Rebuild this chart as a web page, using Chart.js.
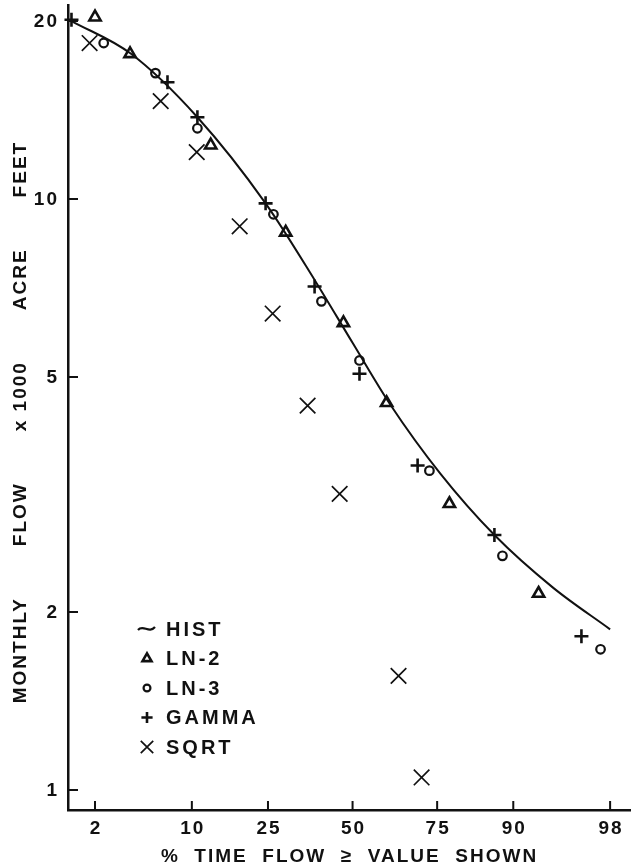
<!DOCTYPE html>
<html>
<head>
<meta charset="utf-8">
<script src="https://cdn.jsdelivr.net/npm/chart.js@4.4.1/dist/chart.umd.min.js"></script>
<style>
  html, body { margin: 0; padding: 0; background: #fff; }
  #wrap { width: 631px; height: 868px; }
</style>
</head>
<body>
<div id="wrap"><canvas id="flowChart" width="631" height="868"></canvas></div>
<script>
// x = % of time flow >= value shown, y = monthly flow (x 1000 acre feet)
var xTicks = [2, 10, 25, 50, 75, 90, 98];
var yTicks = [1, 2, 5, 10, 20];

var histPct  = [1.25, 3.84, 10.8, 24.4, 38.2, 50.0, 61.8, 75.8, 87.1, 94.5, 98.0];
var histFlow = [20.0, 17.62, 13.75, 9.83, 7.28, 5.71, 4.49, 3.43, 2.70, 2.20, 1.87];

var ln2Pct  = [2.0, 3.8, 12.9, 29.7, 47.1, 60.7, 78.0, 93.1];
var ln2Flow = [20.3, 17.6, 12.33, 8.78, 6.17, 4.52, 3.05, 2.15];

var ln3Pct  = [2.36, 5.8, 10.8, 26.4, 40.2, 52.2, 73.0, 88.4, 97.6];
var ln3Flow = [18.36, 16.33, 13.17, 9.42, 6.71, 5.33, 3.47, 2.49, 1.73];

var gammaPct  = [1.25, 7.0, 10.8, 24.4, 38.1, 52.2, 69.8, 87.1, 96.6];
var gammaFlow = [20.1, 15.76, 13.75, 9.83, 7.11, 5.06, 3.54, 2.70, 1.82];

var sqrtPct  = [1.8, 6.3, 10.7, 18.4, 26.2, 36.0, 45.9, 64.3, 70.9];
var sqrtFlow = [18.36, 14.64, 12.0, 8.99, 6.40, 4.47, 3.17, 1.56, 1.05];

function points(xs, ys) {
    return xs.map(function (x, i) { return { x: x, y: ys[i] }; });
}

// inverse of the normal distribution (Acklam)
function probit(p) {
    var a = [-3.969683028665376e+01, 2.209460984245205e+02, -2.759285104469687e+02, 1.383577518672690e+02, -3.066479806614716e+01, 2.506628277459239e+00];
    var b = [-5.447609879822406e+01, 1.615858368580409e+02, -1.556989798598866e+02, 6.680131188771972e+01, -1.328068155288572e+01];
    var c = [-7.784894002430293e-03, -3.223964580411365e-01, -2.400758277161838e+00, -2.549732539343734e+00, 4.374664141464968e+00, 2.938163982698783e+00];
    var d = [7.784695709041462e-03, 3.224671290700398e-01, 2.445134137142996e+00, 3.754408661907416e+00];
    var q, r;
    if (p < 0.02425) {
        q = Math.sqrt(-2 * Math.log(p));
        return (((((c[0]*q+c[1])*q+c[2])*q+c[3])*q+c[4])*q+c[5]) / ((((d[0]*q+d[1])*q+d[2])*q+d[3])*q+1);
    }
    if (p > 1 - 0.02425) {
        q = Math.sqrt(-2 * Math.log(1 - p));
        return -(((((c[0]*q+c[1])*q+c[2])*q+c[3])*q+c[4])*q+c[5]) / ((((d[0]*q+d[1])*q+d[2])*q+d[3])*q+1);
    }
    q = p - 0.5; r = q * q;
    return (((((a[0]*r+a[1])*r+a[2])*r+a[3])*r+a[4])*r+a[5])*q / (((((b[0]*r+b[1])*r+b[2])*r+b[3])*r+b[4])*r+1);
}

// normal probability paper axis
class ProbabilityScale extends Chart.LinearScale {
    determineDataLimits() {
        this.min = this.options.min;
        this.max = this.options.max;
    }
    buildTicks() {
        return xTicks.map(function (v) { return { value: v }; });
    }
    configure() {
        super.configure();
        this._zStart = probit(this.min / 100);
        this._zEnd = probit(this.max / 100);
    }
    getPixelForValue(value) {
        return this.getPixelForDecimal((probit(value / 100) - this._zStart) / (this._zEnd - this._zStart));
    }
    getValueForPixel(pixel) {
        var z = this._zStart + this.getDecimalForPixel(pixel) * (this._zEnd - this._zStart);
        var lo = 0.0001, hi = 0.9999;
        for (var i = 0; i < 40; i++) {
            var mid = (lo + hi) / 2;
            if (probit(mid) < z) lo = mid; else hi = mid;
        }
        return lo * 100;
    }
}
ProbabilityScale.id = 'probability';
ProbabilityScale.defaults = {};
Chart.register(ProbabilityScale);

var INK = '#111';
var FONT = '"Liberation Sans", Arial, sans-serif';

// inward tick marks and tick labels, wide lettering
var paperStyle = {
    id: 'paperStyle',
    beforeDraw: function (chart) {
        chart.ctx.letterSpacing = '2px';
    },
    afterDraw: function (chart) {
        var ctx = chart.ctx, area = chart.chartArea;
        var x = chart.scales.x, y = chart.scales.y;
        ctx.save();
        ctx.strokeStyle = INK;
        ctx.lineWidth = 2;
        ctx.beginPath();
        x.ticks.forEach(function (t) {
            var px = x.getPixelForValue(t.value);
            ctx.moveTo(px, area.bottom);
            ctx.lineTo(px, area.bottom - 9);
        });
        y.ticks.forEach(function (t) {
            var py = y.getPixelForValue(t.value);
            ctx.moveTo(area.left, py);
            ctx.lineTo(area.left + 10, py);
        });
        ctx.stroke();

        ctx.letterSpacing = '2px';
        ctx.fillStyle = INK;
        ctx.font = 'bold 19px ' + FONT;
        ctx.textBaseline = 'middle';
        ctx.textAlign = 'center';
        x.ticks.forEach(function (t) {
            ctx.fillText(String(t.value), x.getPixelForValue(t.value) + 1, area.bottom + 19);
        });
        ctx.textAlign = 'right';
        y.ticks.forEach(function (t) {
            ctx.fillText(String(t.value), area.left - 9, y.getPixelForValue(t.value) + 1);
        });
        ctx.restore();
    }
};

var insideLegend = {
    id: 'insideLegend',
    afterDatasetsDraw: function (chart, args, opts) {
        var ctx = chart.ctx;
        ctx.save();
        ctx.letterSpacing = '3px';
        ctx.font = 'bold 20px ' + FONT;
        ctx.textBaseline = 'middle';
        ctx.textAlign = 'left';
        chart.data.datasets.forEach(function (ds, i) {
            var cy = opts.top + i * opts.rowHeight;
            var cx = opts.left;
            ctx.strokeStyle = INK;
            if (ds.showLine) {
                ctx.lineWidth = 2.2;
                ctx.beginPath();
                ctx.moveTo(cx - 9, cy + 1);
                ctx.bezierCurveTo(cx - 4, cy - 5, cx + 2, cy + 5, cx + 8, cy - 2);
                ctx.stroke();
            } else {
                ctx.lineWidth = ds.pointBorderWidth;
                ctx.fillStyle = 'rgba(0,0,0,0)';
                Chart.helpers.drawPoint(ctx, {
                    pointStyle: ds.pointStyle,
                    radius: ds.pointRadius * 0.8,
                    rotation: 0,
                    borderWidth: ds.pointBorderWidth
                }, cx, cy);
            }
            ctx.fillStyle = INK;
            ctx.fillText(ds.label, cx + 19, cy + 1);
        });
        ctx.restore();
    }
};

Chart.defaults.font.family = FONT;
Chart.defaults.color = INK;

var ctx = document.getElementById('flowChart').getContext('2d');
var chart = new Chart(ctx, {
    type: 'scatter',
    data: {
        datasets: [{
            label: 'HIST',
            data: points(histPct, histFlow),
            showLine: true,
            cubicInterpolationMode: 'monotone',
            borderColor: INK,
            borderWidth: 2,
            pointRadius: 0,
            clip: false
        }, {
            label: 'LN-2',
            data: points(ln2Pct, ln2Flow),
            pointStyle: 'triangle',
            pointRadius: 6.5,
            pointBorderWidth: 2.6,
            borderColor: INK,
            pointBorderColor: INK,
            pointBackgroundColor: 'rgba(0,0,0,0)',
            clip: false
        }, {
            label: 'LN-3',
            data: points(ln3Pct, ln3Flow),
            pointStyle: 'circle',
            pointRadius: 4.3,
            pointBorderWidth: 2.2,
            borderColor: INK,
            pointBorderColor: INK,
            pointBackgroundColor: 'rgba(0,0,0,0)',
            clip: false
        }, {
            label: 'GAMMA',
            data: points(gammaPct, gammaFlow),
            pointStyle: 'cross',
            pointRadius: 7,
            pointBorderWidth: 2.6,
            borderColor: INK,
            pointBorderColor: INK,
            clip: false
        }, {
            label: 'SQRT',
            data: points(sqrtPct, sqrtFlow),
            pointStyle: 'crossRot',
            pointRadius: 11,
            pointBorderWidth: 1.7,
            borderColor: INK,
            pointBorderColor: INK,
            clip: false
        }]
    },
    options: {
        responsive: false,
        animation: false,
        events: [],
        layout: { autoPadding: false, padding: { top: 5, right: 0, bottom: 0, left: 0 } },
        scales: {
            x: {
                type: 'probability',
                position: 'bottom',
                min: 1.163,
                max: 98.68,
                afterFit: function (scale) { scale.height = 58; },
                grid: { display: false, drawTicks: false },
                border: { display: true, color: INK, width: 2.5 },
                ticks: { display: false },
                title: {
                    display: true,
                    text: '%  TIME  FLOW  \u2265  VALUE  SHOWN',
                    font: { size: 19, weight: 'bold' },
                    padding: { top: 0, bottom: 0 }
                }
            },
            y: {
                type: 'logarithmic',
                min: 0.925,
                max: 21.29,
                afterFit: function (scale) { scale.width = 68; },
                afterBuildTicks: function (scale) {
                    scale.ticks = yTicks.map(function (v) { return { value: v }; });
                },
                grid: { display: false, drawTicks: false },
                border: { display: true, color: INK, width: 2.5 },
                ticks: { display: false },
                title: {
                    display: true,
                    text: 'MONTHLY       FLOW       x 1000       ACRE       FEET    ',
                    font: { size: 19, weight: 'bold' },
                    padding: { top: 9, bottom: 0 }
                }
            }
        },
        plugins: {
            legend: { display: false },
            tooltip: { enabled: false },
            insideLegend: { left: 147, top: 629, rowHeight: 29.5 }
        }
    },
    plugins: [paperStyle, insideLegend]
});
</script>
</body>
</html>
